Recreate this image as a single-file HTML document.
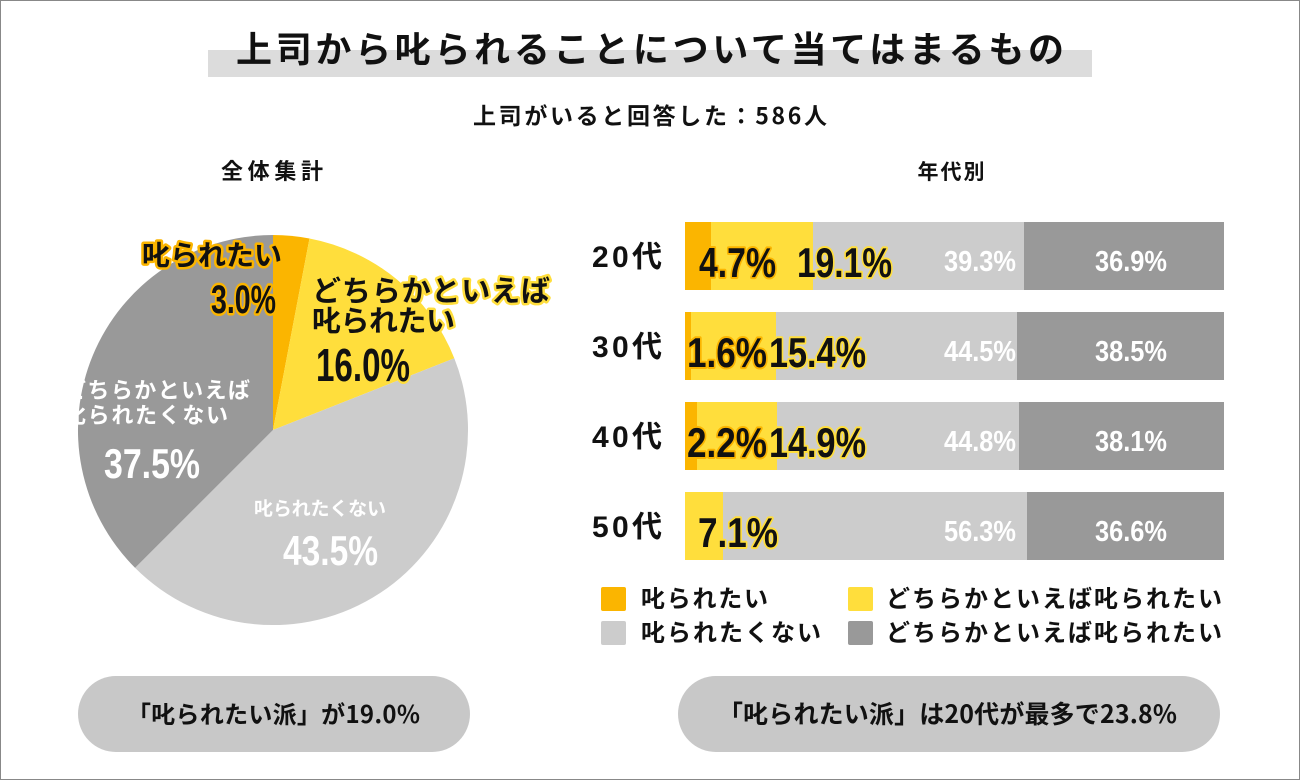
<!DOCTYPE html>
<html><head><meta charset="utf-8"><style>
html,body{margin:0;padding:0;background:#fff;}
svg{display:block;}
text{font-family:"Liberation Sans","Noto Sans CJK JP",sans-serif;}
.n{font-family:"Liberation Sans","Noto Sans CJK JP",sans-serif;font-weight:700;}
.jp{font-family:"Noto Sans CJK JP","Liberation Sans",sans-serif;font-weight:700;}
.ol{paint-order:stroke;stroke-linejoin:round;}
</style></head><body>
<svg width="1300" height="780" viewBox="0 0 1300 780" xmlns="http://www.w3.org/2000/svg">
<rect x="0.5" y="0.5" width="1299" height="779" fill="#fff" stroke="#888" stroke-width="1"/>
<rect x="208" y="50" width="884" height="27" fill="#dcdcdc"/>
<text x="650" y="62" text-anchor="middle" class="jp" font-size="36" fill="#111" textLength="828" lengthAdjust="spacing">上司から叱られることについて当てはまるもの</text>
<text x="650" y="124" text-anchor="middle" class="jp" font-size="23" fill="#111" textLength="354" lengthAdjust="spacing">上司がいると回答した：586人</text>
<text x="272" y="179" text-anchor="middle" class="jp" font-size="22" fill="#111" textLength="102" lengthAdjust="spacing">全体集計</text>
<text x="951" y="179" text-anchor="middle" class="jp" font-size="21" fill="#111" textLength="67" lengthAdjust="spacing">年代別</text>

<!-- pie -->
<path d="M273,430 L273,235 A195,195 0 0 1 309.5,238.5 Z" fill="#fbb500"/>
<path d="M273,430 L309.5,238.5 A195,195 0 0 1 454.3,358.2 Z" fill="#ffde3c"/>
<path d="M273,430 L454.3,358.2 A195,195 0 0 1 135.1,567.9 Z" fill="#cccccc"/>
<path d="M273,430 L135.1,567.9 A195,195 0 0 1 273,235 Z" fill="#999999"/>

<g class="jp ol" stroke="#fbb500" stroke-width="5" fill="#111">
<text x="142" y="265" font-size="28" textLength="140" lengthAdjust="spacing">叱られたい</text>
<text x="211" y="313" font-size="40" class="n ol" textLength="65" lengthAdjust="spacingAndGlyphs">3.0%</text>
</g>
<g class="jp ol" stroke="#ffde3c" stroke-width="5" fill="#111">
<text x="312" y="301" font-size="29" textLength="238" lengthAdjust="spacing">どちらかといえば</text>
<text x="312" y="331" font-size="29" textLength="143" lengthAdjust="spacing">叱られたい</text>
<text x="316" y="381" font-size="46" class="n ol" textLength="94" lengthAdjust="spacingAndGlyphs">16.0%</text>
</g>
<text x="64" y="398" font-size="22" class="jp" fill="#fff" textLength="186" lengthAdjust="spacing">どちらかといえば</text>
<text x="64" y="423" font-size="22" class="jp" fill="#fff" textLength="164" lengthAdjust="spacing">叱られたくない</text>
<text x="104" y="478" font-size="42" class="n" fill="#fff" textLength="96" lengthAdjust="spacingAndGlyphs">37.5%</text>
<text x="254" y="515" font-size="19" class="jp" fill="#fff" textLength="132" lengthAdjust="spacing">叱られたくない</text>
<text x="283" y="565" font-size="42" class="n" fill="#fff" textLength="95" lengthAdjust="spacingAndGlyphs">43.5%</text>

<!-- bars -->
<g class="jp" font-size="30" fill="#111">
<text x="592" y="267" textLength="70" lengthAdjust="spacing">20代</text>
<text x="592" y="357" textLength="70" lengthAdjust="spacing">30代</text>
<text x="592" y="447" textLength="70" lengthAdjust="spacing">40代</text>
<text x="592" y="537" textLength="70" lengthAdjust="spacing">50代</text>
</g>
<rect x="685" y="222" width="26" height="68" fill="#fbb500"/>
<rect x="711" y="222" width="102" height="68" fill="#ffde3c"/>
<rect x="813" y="222" width="211" height="68" fill="#cccccc"/>
<rect x="1024" y="222" width="200" height="68" fill="#999999"/>
<rect x="685" y="312" width="6" height="68" fill="#fbb500"/>
<rect x="691" y="312" width="85" height="68" fill="#ffde3c"/>
<rect x="776" y="312" width="241" height="68" fill="#cccccc"/>
<rect x="1017" y="312" width="207" height="68" fill="#999999"/>
<rect x="685" y="402" width="12" height="68" fill="#fbb500"/>
<rect x="697" y="402" width="80" height="68" fill="#ffde3c"/>
<rect x="777" y="402" width="242" height="68" fill="#cccccc"/>
<rect x="1019" y="402" width="205" height="68" fill="#999999"/>
<rect x="685" y="492" width="38" height="68" fill="#ffde3c"/>
<rect x="723" y="492" width="304" height="68" fill="#cccccc"/>
<rect x="1027" y="492" width="197" height="68" fill="#999999"/>

<g class="n ol" fill="#111" font-size="42" stroke-width="4" lengthAdjust="spacingAndGlyphs">
<text x="699" y="277" stroke="#fbb500" textLength="77" lengthAdjust="spacingAndGlyphs">4.7%</text>
<text x="797" y="277" stroke="#ffde3c" textLength="95" lengthAdjust="spacingAndGlyphs">19.1%</text>
<text x="687" y="367" stroke="#fbb500" textLength="80" lengthAdjust="spacingAndGlyphs">1.6%</text>
<text x="769" y="367" stroke="#ffde3c" textLength="97" lengthAdjust="spacingAndGlyphs">15.4%</text>
<text x="687" y="457" stroke="#fbb500" textLength="80" lengthAdjust="spacingAndGlyphs">2.2%</text>
<text x="769" y="457" stroke="#ffde3c" textLength="97" lengthAdjust="spacingAndGlyphs">14.9%</text>
<text x="698" y="547" stroke="#ffde3c" textLength="80" lengthAdjust="spacingAndGlyphs">7.1%</text>
</g>
<g class="n" fill="#fff" font-size="29">
<text x="944" y="271" textLength="72" lengthAdjust="spacingAndGlyphs">39.3%</text>
<text x="1095" y="271" textLength="72" lengthAdjust="spacingAndGlyphs">36.9%</text>
<text x="944" y="361" textLength="72" lengthAdjust="spacingAndGlyphs">44.5%</text>
<text x="1095" y="361" textLength="72" lengthAdjust="spacingAndGlyphs">38.5%</text>
<text x="944" y="451" textLength="72" lengthAdjust="spacingAndGlyphs">44.8%</text>
<text x="1095" y="451" textLength="72" lengthAdjust="spacingAndGlyphs">38.1%</text>
<text x="944" y="541" textLength="72" lengthAdjust="spacingAndGlyphs">56.3%</text>
<text x="1095" y="541" textLength="72" lengthAdjust="spacingAndGlyphs">36.6%</text>
</g>

<!-- legend -->
<rect x="601" y="587" width="25" height="24" rx="2" fill="#fbb500"/>
<rect x="601" y="621" width="25" height="24" rx="2" fill="#cccccc"/>
<rect x="848" y="587" width="25" height="24" rx="2" fill="#ffde3c"/>
<rect x="848" y="621" width="25" height="24" rx="2" fill="#999999"/>
<g class="jp" font-size="24" fill="#111">
<text x="641" y="607" textLength="127" lengthAdjust="spacing">叱られたい</text>
<text x="641" y="641" textLength="180" lengthAdjust="spacing">叱られたくない</text>
<text x="886" y="607" textLength="336" lengthAdjust="spacing">どちらかといえば叱られたい</text>
<text x="886" y="641" textLength="336" lengthAdjust="spacing">どちらかといえば叱られたい</text>
</g>

<!-- pills -->
<rect x="78" y="676" width="392" height="76" rx="38" fill="#c8c8c8"/>
<rect x="678" y="676" width="542" height="76" rx="38" fill="#c8c8c8"/>
<text x="127" y="723" class="jp" font-size="24" fill="#111" textLength="293" lengthAdjust="spacing">「叱られたい派」が19.0%</text>
<text x="718" y="723" class="jp" font-size="25" fill="#111" textLength="459" lengthAdjust="spacing">「叱られたい派」は20代が最多で23.8%</text>
</svg>
</body></html>
